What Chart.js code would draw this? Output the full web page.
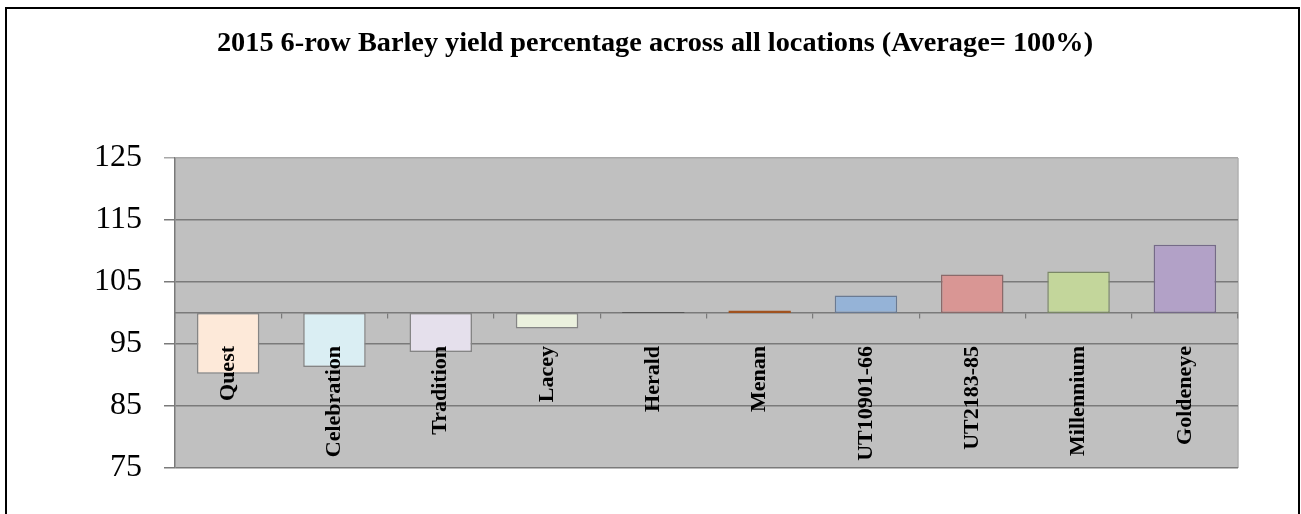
<!DOCTYPE html>
<html>
<head>
<meta charset="utf-8">
<script src="https://cdn.jsdelivr.net/npm/chart.js@4.4.1/dist/chart.umd.min.js"></script>
<style>
  html, body { margin: 0; padding: 0; background: #fff; width: 1301px; height: 514px; overflow: hidden; }
  #frame { position: absolute; left: 5px; top: 7px; width: 1295px; height: 600px; box-sizing: border-box; border: 2px solid #000; }
  #wrap { position: absolute; left: 0; top: 0; width: 1301px; height: 514px; }
</style>
</head>
<body>
<div id="frame"></div>
<div id="wrap"><canvas id="c"></canvas></div>
<script>
const titleText = "2015 6-row Barley yield percentage across all locations (Average= 100%)";
const varieties = ["Quest", "Celebration", "Tradition", "Lacey", "Herald", "Menan", "UT10901-66", "UT2183-85", "Millennium", "Goldeneye"];
const yieldPct = [90.2, 91.3, 93.7, 97.5, 100.1, 100.4, 102.8, 106.2, 106.7, 111.0];
const averageLine = 100;
const yTicks = [75, 85, 95, 105, 115, 125];
const barColors = ["#FDE9D9", "#DAEEF3", "#E5E0EC", "#EBF1DE", "#595959", "#C0682C", "#95B3D7", "#D99694", "#C3D69B", "#B2A1C7"];
const barBorders = ["#858585", "#858585", "#858585", "#858585", "#3a3a3a", "#a0521f", "#6a7a92", "#8a6a6a", "#7a8766", "#756a88"];

const plotBg = {
  id: 'plotBg',
  beforeDraw(chart) {
    const {ctx, chartArea: a} = chart;
    ctx.save();
    ctx.fillStyle = '#C0C0C0';
    ctx.fillRect(a.left, a.top, a.right - a.left, a.bottom - a.top);
    ctx.strokeStyle = '#b0b0b0';
    ctx.lineWidth = 1.5;
    ctx.beginPath();
    ctx.moveTo(a.right, a.top);
    ctx.lineTo(a.right, a.bottom);
    ctx.stroke();
    ctx.restore();
  }
};

new Chart(document.getElementById('c'), {
  type: 'bar',
  data: {
    labels: varieties,
    datasets: [{
      data: yieldPct.map(v => [averageLine, v]),
      backgroundColor: barColors,
      borderColor: barBorders,
      borderWidth: 1.5,
      borderSkipped: false,
      categoryPercentage: 1.0,
      barPercentage: 0.588
    }]
  },
  options: {
    responsive: true,
    maintainAspectRatio: false,
    animation: false,
    layout: { padding: { left: 72, right: 63, top: 0, bottom: 46 } },
    plugins: {
      legend: { display: false },
      tooltip: { enabled: false },
      title: {
        display: true,
        text: titleText,
        color: '#000',
        font: { family: "'Liberation Serif', 'Times New Roman', serif", size: 28.3, weight: 'bold' },
        padding: { top: 27, bottom: 97 }
      }
    },
    scales: {
      y: {
        min: yTicks[0],
        max: yTicks[yTicks.length - 1],
        afterBuildTicks(scale) { scale.ticks = yTicks.map(v => ({ value: v })); },
        ticks: {
          color: '#000',
          padding: 22,
          font: { family: "'Liberation Serif', 'Times New Roman', serif", size: 32 }
        },
        grid: {
          color: ctx => (ctx.tick && ctx.tick.value === 125) ? '#a8a8a8' : '#7a7a7a',
          lineWidth: 1.5,
          tickLength: 11
        },
        border: { display: true, color: '#7a7a7a', width: 1.5 }
      },
      x: {
        position: { y: averageLine },
        offset: true,
        ticks: {
          z: 1,
          color: '#000',
          autoSkip: false,
          minRotation: 90,
          maxRotation: 90,
          padding: 28,
          font: { family: "'Liberation Serif', 'Times New Roman', serif", size: 22, weight: 'bold' }
        },
        grid: {
          offset: true,
          drawOnChartArea: false,
          drawTicks: true,
          tickLength: 5,
          color: '#7a7a7a',
          lineWidth: 1.2
        },
        border: { display: true, color: '#7a7a7a', width: 1.5 }
      }
    }
  },
  plugins: [plotBg]
});
</script>
</body>
</html>
